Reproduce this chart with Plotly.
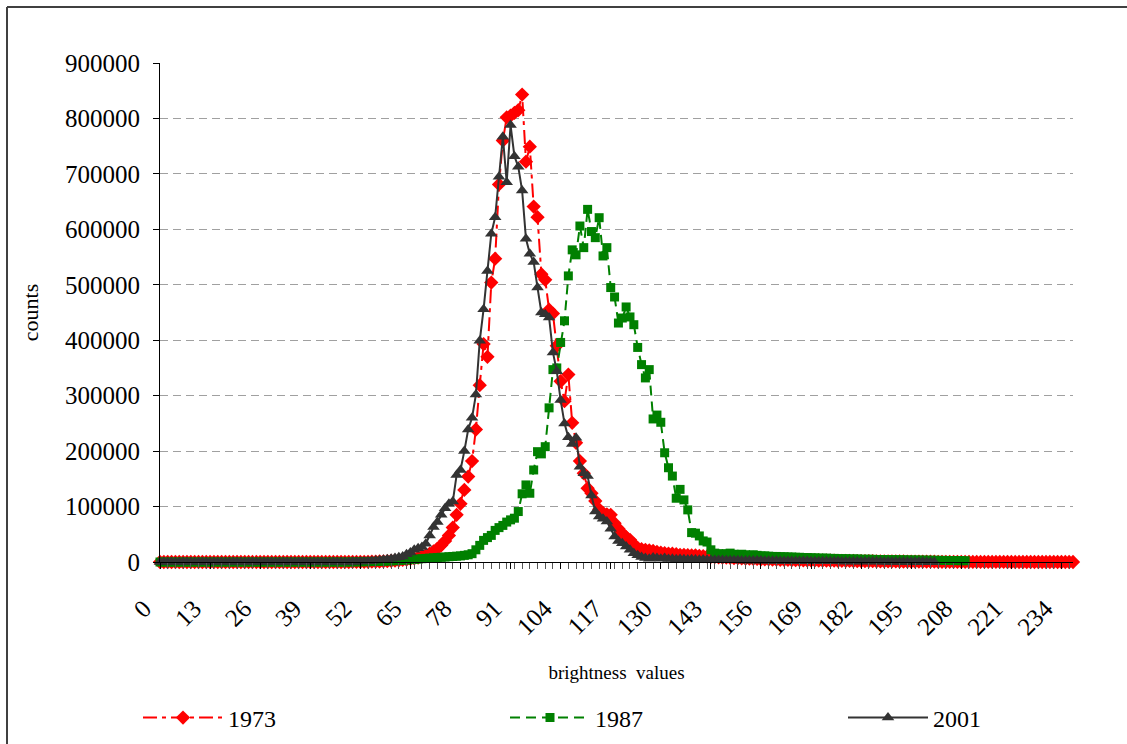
import plotly.graph_objects as go

# ---------------- data ----------------
brightness = list(range(238))
tick_values = [0, 13, 26, 39, 52, 65, 78, 91, 104, 117, 130, 143, 156, 169, 182, 195, 208, 221, 234]
count_ticks = [0, 100000, 200000, 300000, 400000, 500000, 600000, 700000, 800000, 900000]

counts_1973 = [
    0, 0, 0, 0, 0, 0, 0, 0, 0, 0,
    0, 0, 0, 0, 0, 0, 0, 0, 0, 0,
    0, 0, 0, 0, 0, 0, 0, 0, 0, 0,
    0, 0, 0, 0, 0, 0, 0, 0, 0, 0,
    0, 0, 0, 0, 0, 0, 0, 0, 0, 0,
    100, 150, 200, 300, 400, 500, 700, 900, 1200, 1500,
    2000, 2500, 3000, 3800, 4500, 5500, 6500, 8000, 10000, 12000,
    15000, 19000, 24000, 30000, 38000, 48000, 62000, 85000, 105000, 130000,
    154000, 182000, 239000, 319000, 393000, 370000, 504000, 547000, 681000, 760000,
    802000, 805000, 810000, 815000, 843000, 722000, 749000, 641000, 622000, 519000,
    509000, 455000, 448000, 390000, 326000, 290000, 338000, 251000, 215000, 182000,
    160000, 133000, 124000, 110000, 95000, 88000, 86000, 85000, 70000, 60000,
    52000, 45000, 40000, 32000, 25000, 23000, 22000, 21000, 20000, 18000,
    17000, 16000, 15000, 15000, 14000, 13000, 13000, 12500, 12000, 12000,
    11000, 10500, 10000, 9500, 9000, 8500, 8000, 8000, 7500, 7000,
    7000, 6500, 6000, 6000, 5500, 5500, 5000, 5000, 4800, 4500,
    4300, 4000, 4000, 3800, 3600, 3500, 3300, 3200, 3000, 2900,
    2800, 2700, 2600, 2500, 2400, 2300, 2200, 2100, 2000, 1900,
    1800, 1700, 1600, 1500, 1500, 1400, 1300, 1300, 1200, 1100,
    1000, 1000, 900, 900, 800, 800, 700, 700, 600, 600,
    500, 500, 400, 400, 300, 300, 300, 200, 200, 200,
    150, 150, 100, 100, 100, 100, 50, 50, 50, 50,
    0, 0, 0, 0, 0, 0, 0, 0, 0, 0,
    0, 0, 0, 0, 0, 0, 0, 0,
]

counts_1987 = [
    0, 0, 0, 0, 0, 0, 0, 0, 0, 0,
    0, 0, 0, 0, 0, 0, 0, 0, 0, 0,
    0, 0, 0, 0, 0, 0, 0, 0, 0, 0,
    0, 0, 0, 0, 0, 0, 0, 0, 0, 0,
    0, 0, 0, 0, 0, 0, 0, 0, 0, 0,
    200, 300, 400, 500, 600, 800, 1000, 1200, 1400, 1700,
    2000, 2400, 2800, 3200, 3700, 4200, 4800, 5300, 6000, 6500,
    7000, 7500, 8000, 8500, 9000, 9500, 10000, 10500, 11000, 12000,
    13000, 15000, 22000, 30000, 39000, 44000, 48000, 57000, 62000, 66000,
    72000, 76000, 79000, 91000, 123000, 139000, 124000, 166000, 199000, 195000,
    208000, 278000, 347000, 350000, 396000, 435000, 516000, 563000, 554000, 606000,
    567000, 636000, 596000, 585000, 621000, 552000, 567000, 495000, 478000, 431000,
    440000, 460000, 442000, 428000, 387000, 356000, 332000, 347000, 258000, 265000,
    252000, 197000, 170000, 155000, 115000, 131000, 112000, 94000, 53000, 52000,
    47000, 38000, 36000, 22000, 16000, 15000, 14000, 15000, 16000, 14000,
    13000, 14000, 13000, 12000, 13000, 12000, 11000, 11000, 10500, 10000,
    10000, 9500, 9500, 9000, 9000, 8500, 8500, 8000, 8000, 7500,
    7500, 7000, 7000, 7000, 6500, 6500, 6000, 6000, 6000, 5500,
    5500, 5500, 5000, 5000, 5000, 4800, 4600, 4500, 4400, 4300,
    4200, 4100, 4000, 3900, 3800, 3700, 3600, 3500, 3400, 3300,
    3200, 3100, 3000, 2900, 2800, 2700, 2600, 2500, 2400, 2300,
]

counts_2001 = [
    0, 0, 0, 0, 0, 0, 0, 0, 0, 0,
    0, 0, 0, 0, 0, 0, 0, 0, 0, 0,
    0, 0, 0, 0, 0, 0, 0, 0, 0, 0,
    0, 0, 0, 0, 0, 0, 0, 0, 0, 0,
    0, 0, 0, 0, 0, 0, 0, 0, 0, 0,
    300, 500, 800, 1000, 1500, 2000, 2500, 3000, 4000, 5000,
    6000, 7000, 8500, 10000, 14000, 17000, 22000, 25000, 27000, 33000,
    48000, 63000, 72000, 85000, 97000, 105000, 109000, 157000, 166000, 200000,
    239000, 260000, 302000, 399000, 456000, 525000, 592000, 622000, 695000, 767000,
    685000, 788000, 732000, 713000, 670000, 583000, 556000, 541000, 495000, 450000,
    447000, 441000, 378000, 344000, 292000, 250000, 225000, 213000, 224000, 172000,
    160000, 155000, 120000, 91000, 82000, 78000, 73000, 60000, 46000, 38000,
    34000, 28000, 22000, 16000, 12000, 9000, 7000, 6000, 8000, 7000,
    6000, 7000, 5500, 6000, 5000, 5500, 5000, 4500, 5000, 4500,
    4000, 4500, 4000, 3800, 3600, 3500, 3400, 3300, 3200, 3000,
    3000, 2900, 2800, 2700, 2600, 2500, 2500, 2400, 2300, 2200,
    2100, 2000, 2000, 1900, 1800, 1800, 1700, 1600, 1600, 1500,
    1500, 1400, 1400, 1300, 1300, 1200, 1200, 1100, 1100, 1000,
    1000, 900, 900, 800, 800, 800, 700, 700, 600, 600,
    500, 500, 500, 400, 400, 400, 300, 300, 300, 200,
    200, 100,
]

# ---------------- figure ----------------
FONT = "Liberation Serif"
W, H = 1127, 744
L, R, T, B = 160, 54, 63, 182
PW, PH = W - L - R, H - T - B


def px_x(px):
    return (px - L) / PW


def px_y(py):
    return (H - B - py) / PH


fig = go.Figure()
series = [
    ("1973", counts_1973, "#FF0000", "14px,5px,4px,5px", "diamond", 11, "legend"),
    ("1987", counts_1987, "#008000", "10px,6px", "square", 9, "legend2"),
    ("2001", counts_2001, "#333333", "solid", "triangle-up", 11, "legend3"),
]
for name, vals, color, dash, sym, size, leg in series:
    fig.add_trace(go.Scatter(
        x=brightness[:len(vals)], y=vals, name=name, mode="lines+markers",
        line=dict(color=color, width=2, dash=dash),
        marker=dict(symbol=sym, size=size, color=color, line=dict(width=0)),
        cliponaxis=False, legend=leg,
    ))


def legend_at(text_px):
    return dict(
        orientation="h", x=px_x(text_px - 90), xanchor="left", y=px_y(718), yanchor="middle",
        font=dict(family=FONT, size=24), itemwidth=80, bgcolor="rgba(0,0,0,0)",
    )


fig.update_layout(
    width=W, height=H, autosize=False,
    margin=dict(l=L, r=R, t=T, b=B, autoexpand=False),
    paper_bgcolor="white", plot_bgcolor="white",
    font=dict(family=FONT, size=25, color="black"),
    showlegend=True,
    legend=legend_at(228),
    legend2=legend_at(595),
    legend3=legend_at(933),
    xaxis=dict(
        range=[0, 237], tickmode="array", tickvals=tick_values,
        ticktext=[str(v) for v in tick_values], tickangle=-45,
        ticks="outside", ticklen=6, tickcolor="black", tickwidth=1,
        ticklabelstandoff=15, ticklabelshift=-16,
        showline=True, linecolor="black", linewidth=1,
        showgrid=False, zeroline=False,
        minor=dict(dtick=2, tick0=0, ticks="outside", ticklen=6, tickcolor="#555555", showgrid=False),
        tickfont=dict(family=FONT, size=25),
        title=dict(text="brightness  values", font=dict(family=FONT, size=19), standoff=26),
        automargin=False,
    ),
    yaxis=dict(
        range=[0, 900000], tickmode="array", tickvals=count_ticks,
        ticktext=[str(v) for v in count_ticks],
        ticks="outside", ticklen=6, tickcolor="black", ticklabelstandoff=8,
        showline=True, linecolor="black", linewidth=1,
        showgrid=True, gridcolor="#A0A0A0", gridwidth=1, griddash="8px,5px",
        zeroline=False,
        tickfont=dict(family=FONT, size=25),
        title=dict(text="counts", font=dict(family=FONT, size=22), standoff=20),
        automargin=False,
    ),
    shapes=[
        dict(type="line", xref="paper", yref="paper", x0=px_x(7), x1=px_x(1140), y0=px_y(7), y1=px_y(7),
             line=dict(color="#404040", width=2)),
        dict(type="line", xref="paper", yref="paper", x0=px_x(7), x1=px_x(7), y0=px_y(7), y1=px_y(760),
             line=dict(color="#404040", width=2)),
    ],
)

fig.write_html("out.html")
